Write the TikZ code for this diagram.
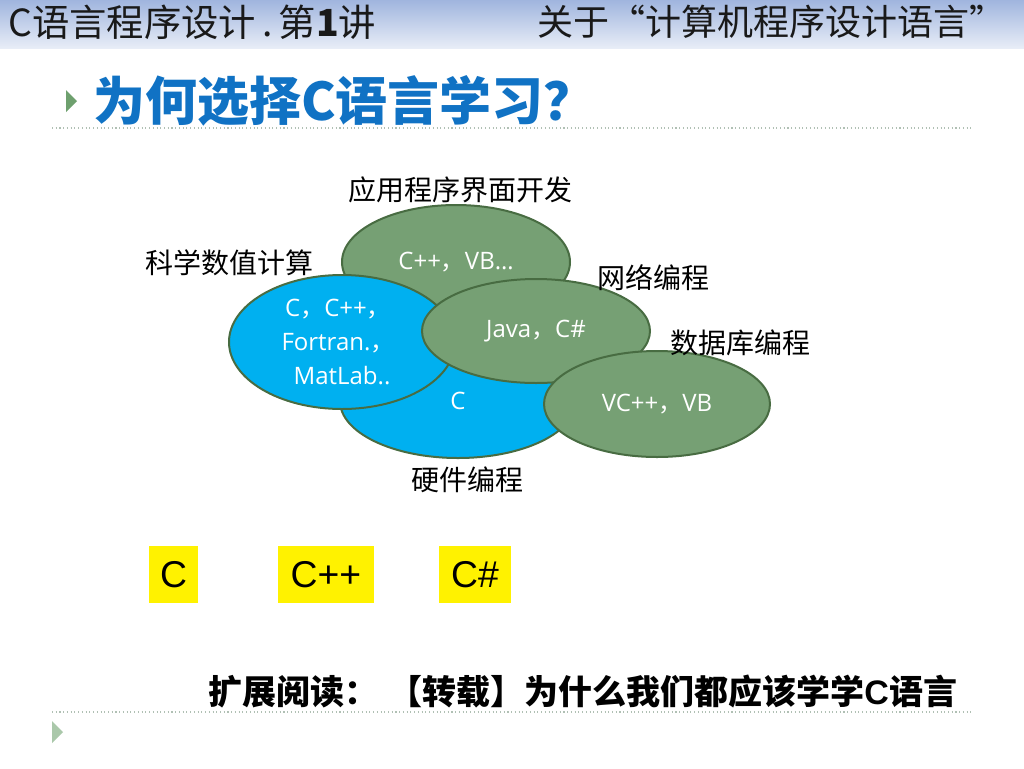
\documentclass[tikz,border=0pt]{standalone}
\usepackage{fontspec}
\setmainfont{Noto Sans CJK SC}
\newfontfamily\cjk{Noto Sans CJK SC}
\newfontfamily\lat{Open Sans}
\newfontfamily\arial{Liberation Sans}
\usetikzlibrary{shapes.geometric}
\definecolor{hdrtop}{RGB}{160,181,222}
\definecolor{hdrbot}{RGB}{232,237,247}
\definecolor{ttlblue}{RGB}{16,114,196}
\definecolor{gfill}{RGB}{118,160,116}
\definecolor{bfill}{RGB}{0,176,240}
\definecolor{edge}{RGB}{72,108,66}
\definecolor{dotc}{RGB}{176,192,180}
\definecolor{tri}{RGB}{110,160,110}
\definecolor{trilight}{RGB}{170,200,170}
\tikzset{
  blob/.style={ellipse, draw=edge, line width=1.5pt, inner sep=0pt, text=white,
     font=\lat\fontsize{18}{25.5}\selectfont, align=center},
  gblob/.style={blob, fill=gfill},
  bblob/.style={blob, fill=bfill},
  area/.style={font=\cjk\fontsize{21}{24}\selectfont, text=black, inner sep=0pt},
  ybox/.style={fill=yellow, inner sep=0pt, minimum height=42.75pt,
     font=\arial\fontsize{28}{32}\selectfont, text=black},
  sepline/.style={draw=dotc, line width=0.8pt, dotted},
}
\begin{document}
\begin{tikzpicture}[x=0.75pt,y=-0.75pt]
\useasboundingbox (0,0) rectangle (1024,768);
\fill[white] (0,0) rectangle (1024,768);
% header band
\shade[top color=hdrtop, bottom color=hdrbot] (0,0) rectangle (1024,48);
\node[anchor=west, inner sep=0pt, font=\cjk\fontsize{28}{30}\selectfont, text=black!90] (hl) at (8,22) {C语言程序设计\,.\,第{\bfseries 1}讲};
\node[anchor=east, inner sep=0pt, font=\cjk\fontsize{27}{30}\selectfont, text=black!90] (hr) at (1006,22) {关于“计算机程序设计语言”};
% title
\fill[tri] (66,90) -- (77,101) -- (66,112) -- cycle;
\node[anchor=west, inner sep=0pt, font=\cjk\bfseries\fontsize{39}{42}\selectfont, text=ttlblue] (title) at (93,101) {为何选择C语言学习？};
\draw[sepline] (52,128) -- (972,128);
% ellipses
\node[gblob, minimum width=171pt, minimum height=85.5pt] (app) at (456,262) {C++{\cjk ，}VB…};
\node[bblob, minimum width=177pt, minimum height=85.5pt] (hw) at (458,401) {\raisebox{-3pt}{C}};
\node[bblob, minimum width=169.5pt, minimum height=100.5pt] (sci) at (342,342) {\hspace{-6pt}C{\cjk ，}C++{\cjk ，}\\\hspace{-6pt}Fortran.{\cjk ，}\\MatLab..};
\node[gblob, minimum width=171pt, minimum height=78pt] (net) at (536,331) {Java{\cjk ，}C\#};
\node[gblob, minimum width=169.5pt, minimum height=79.5pt] (db) at (657,404) {VC++{\cjk ，}VB};
% area labels
\node[area] (lapp) at (460,190) {应用程序界面开发};
\node[area] (lsci) at (229,263) {科学数值计算};
\node[area] (lnet) at (653,278) {网络编程};
\node[area] (ldb) at (740,343) {数据库编程};
\node[area] (lhw) at (467,480) {硬件编程};
% yellow boxes
\node[ybox, minimum width=36.75pt] (bc) at (173.5,574.5) {C};
\node[ybox, minimum width=72pt] (bcpp) at (326,574.5) {C++};
\node[ybox, minimum width=54pt] (bcs) at (475,574.5) {C\#};
% bottom
\node[anchor=west, inner sep=0pt, font=\cjk\bfseries\fontsize{25.5}{28}\selectfont, text=black] (read) at (208,692) {扩展阅读：\hspace{0.3em}【转载】为什么我们都应该学学{\arial\bfseries C}语言};
\draw[sepline] (52,712) -- (972,712);
\fill[trilight] (52,721) -- (63,732) -- (52,743) -- cycle;
\end{tikzpicture}
\end{document}
